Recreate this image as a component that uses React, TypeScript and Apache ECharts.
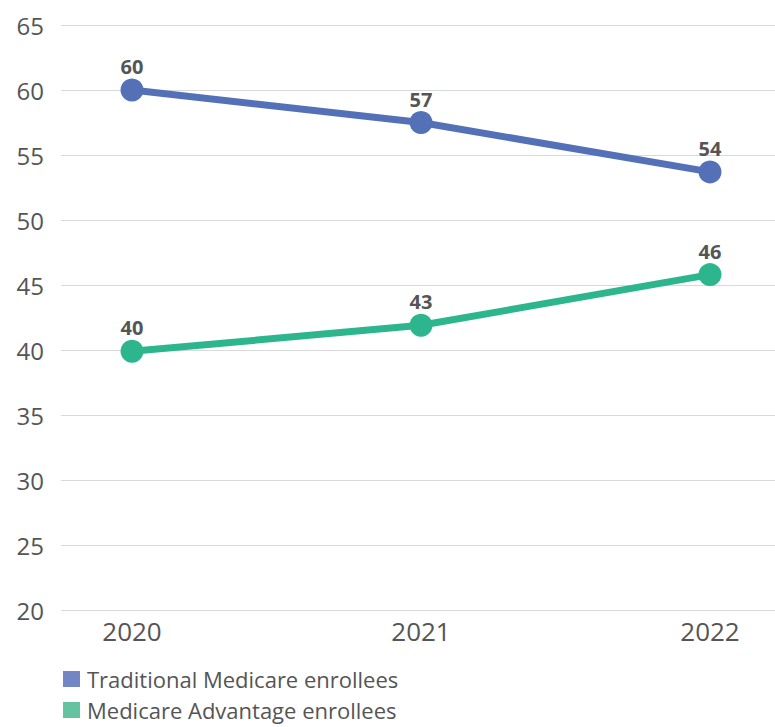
import React, { useEffect, useRef } from "react";
import * as echarts from "echarts";

const years = ["2020", "2021", "2022"];
const traditional = [60, 57.5, 53.7];
const traditionalLabels = ["60", "57", "54"];
const advantage = [39.9, 41.9, 45.8];
const advantageLabels = ["40", "43", "46"];
const seriesNames = ["Traditional Medicare enrollees", "Medicare Advantage enrollees"];

const BLUE = "#5471b8";
const GREEN = "#2db68e";
const TEXT = "#555555";
const FONT = "'Open Sans', 'Noto Sans', sans-serif";

export default function App() {
  const ref = useRef<HTMLDivElement>(null);
  useEffect(() => {
    if (!ref.current) return;
    const chart = echarts.init(ref.current, undefined, { renderer: "svg" });
    const top = 25;
    const bottom = 727 - 610;
    const legendBase = {
      orient: "horizontal",
      left: 63,
      padding: 0,
      itemWidth: 17,
      itemHeight: 16,
      icon: "rect",
      textStyle: { color: TEXT, fontSize: 22, lineHeight: 22, fontFamily: FONT, padding: [0, 0, 0, 2] },
    };
    const label = (labels: string[]) => ({
      show: true,
      position: "top",
      distance: 2,
      color: TEXT,
      fontSize: 20,
      fontWeight: "bold",
      fontFamily: FONT,
      formatter: (p: any) => labels[p.dataIndex],
    });
    chart.setOption({
      animation: false,
      backgroundColor: "#ffffff",
      textStyle: { fontFamily: FONT },
      grid: [
        { left: 61, right: 0, top, bottom, containLabel: false },
        { left: 132, right: 65, top, bottom, containLabel: false },
      ],
      legend: [
        {
          ...legendBase,
          top: 668,
          data: [{ name: seriesNames[0], itemStyle: { color: "#7385c4" } }],
        },
        {
          ...legendBase,
          top: 699,
          data: [{ name: seriesNames[1], itemStyle: { color: "#66c3a1" } }],
        },
      ],
      xAxis: [
        { type: "category", gridIndex: 0, data: years, show: false },
        {
          type: "category",
          gridIndex: 1,
          data: years,
          boundaryGap: false,
          axisLine: { show: false },
          axisTick: { show: false },
          splitLine: { show: false },
          axisLabel: { color: TEXT, fontSize: 26, fontFamily: FONT, margin: 8 },
        },
      ],
      yAxis: [
        {
          type: "value",
          gridIndex: 0,
          min: 20,
          max: 65,
          interval: 5,
          axisLine: { show: false },
          axisTick: { show: false },
          axisLabel: { color: TEXT, fontSize: 24, fontFamily: FONT, margin: 17 },
          splitLine: { lineStyle: { color: "#d9d9d9", width: 1 } },
        },
        {
          type: "value",
          gridIndex: 1,
          min: 20,
          max: 65,
          interval: 5,
          show: false,
          splitLine: { show: false },
        },
      ],
      series: [
        {
          name: seriesNames[0],
          type: "line",
          xAxisIndex: 1,
          yAxisIndex: 1,
          data: traditional,
          symbol: "circle",
          symbolSize: 23,
          lineStyle: { color: BLUE, width: 7 },
          itemStyle: { color: BLUE },
          label: label(traditionalLabels),
        },
        {
          name: seriesNames[1],
          type: "line",
          xAxisIndex: 1,
          yAxisIndex: 1,
          data: advantage,
          symbol: "circle",
          symbolSize: 23,
          lineStyle: { color: GREEN, width: 7 },
          itemStyle: { color: GREEN },
          label: label(advantageLabels),
        },
      ],
    });
    return () => chart.dispose();
  }, []);
  return (
    <div
      ref={ref}
      style={{ position: "fixed", left: 0, top: 0, width: 775, height: 727 }}
    />
  );
}
